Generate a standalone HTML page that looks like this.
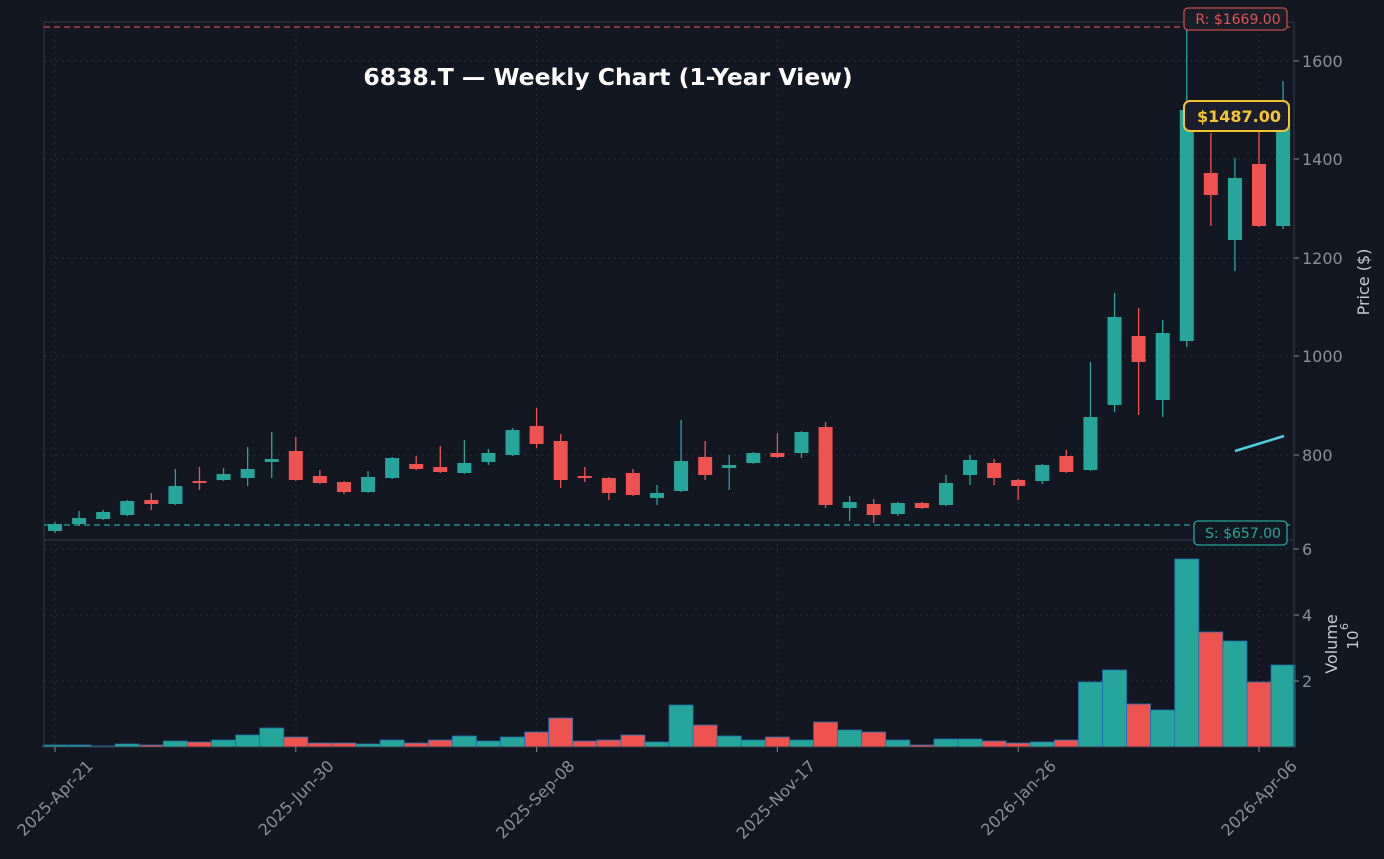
<!DOCTYPE html>
<html><head><meta charset="utf-8"><style>
html,body{margin:0;padding:0;background:#131722;}
svg{display:block;font-family:"DejaVu Sans","Liberation Sans",sans-serif;}
</style></head><body>
<svg id="s" width="1384" height="859" xmlns="http://www.w3.org/2000/svg">
<rect width="1384" height="859" fill="#131722"/>
<g id="grid"></g>
<g id="c"></g>
<g id="v"></g>
<g id="ax"></g>
</svg>
<script>
const NS="http://www.w3.org/2000/svg";
function el(p,t,a,txt){const e=document.createElementNS(NS,t);for(const k in a)e.setAttribute(k,a[k]);if(txt!==undefined)e.textContent=txt;document.getElementById(p).appendChild(e);return e;}
const D=[
['g',524,531,522,533,745],['g',518,524,511,526,745],['g',512,519,510,520,746],['g',501,515,500,516,744],
['r',500,504,493,510,745],['g',486,504,469,505,741],['r',481,483,467,490,742],['g',474,480,468,481,740],
['g',469,478,447,486,735],['g',459,462,432,478,728],['r',451,480,437,481,737],['r',476,483,470,484,743],
['r',482,492,481,494,743],['g',477,492,471,493,744],['g',458,478,457,479,740],['r',464,469,456,470,743],
['r',467,472,446,473,740],['g',463,473,440,474,736],['g',453,462,449,465,741],['g',430,455,428,456,737],
['r',426,444,408,448,732],['r',441,480,434,488,718],['r',476,478,467,482,741],['r',478,493,477,500,740],
['r',473,495,469,496,735],['g',493,498,485,505,742],['g',461,491,420,492,705],['r',457,475,441,480,725],
['g',465,468,455,490,736],['g',453,463,452,464,740],['r',453,457,433,458,737],['g',432,453,431,458,740],
['r',427,505,422,508,722],['g',502,508,496,521,730],['r',504,515,499,523,732],['g',503,514,502,516,740],
['r',503,508,502,509,745],['g',483,505,475,506,739],['g',460,475,455,485,739],['r',463,478,459,485,741],
['r',480,486,479,500,743],['g',465,481,464,484,742],['r',456,472,450,473,740],['g',417,470,362,471,682],
['g',317,405,293,412,670],['r',336,362,308,415,704],['g',333,400,320,417,710],['g',110,341,27,347,559],
['r',173,195,133,226,632],['g',178,240,158,271,641],['r',164,226,130,227,682],['g',117,226,81,229,665]];
const G='#26a69a',R='#ef5350';
const X0=55,DX=24.08;
const L=44,Rt=1294;
[455,356,258,159,61,681,615,549].forEach(y=>el('grid','line',{x1:L,x2:Rt,y1:y,y2:y,stroke:'#2a2e39','stroke-dasharray':'2,4','stroke-width':1}));
[0,10,20,30,40,50].forEach(i=>{const x=X0+DX*i;el('grid','line',{x1:x,x2:x,y1:22,y2:747,stroke:'#2a2e39','stroke-dasharray':'2,4','stroke-width':1});});
D.forEach((d,i)=>{const x=X0+DX*i,col=d[0]=='g'?G:R;
el('c','line',{x1:x,x2:x,y1:d[3],y2:d[4],stroke:col,'stroke-width':1.3});
el('c','rect',{x:x-7,y:d[1],width:14,height:Math.max(2,d[2]-d[1]),fill:col});
el('v','rect',{x:x-12,y:d[5],width:24,height:747-d[5],fill:col,stroke:'#1f6fb0','stroke-width':0.8});
});
el('ax','line',{x1:L,x2:L,y1:22,y2:747,stroke:'#363a45'});
el('ax','line',{x1:Rt,x2:Rt,y1:22,y2:747,stroke:'#363a45'});
el('ax','line',{x1:L,x2:Rt,y1:22,y2:22,stroke:'#363a45'});
el('ax','line',{x1:L,x2:Rt,y1:540,y2:540,stroke:'#363a45'});
el('ax','line',{x1:L,x2:Rt,y1:747,y2:747,stroke:'#363a45'});
el('ax','line',{x1:L,x2:Rt,y1:27,y2:27,stroke:'#c84a4a','stroke-dasharray':'6,4','stroke-width':1.3});
el('ax','line',{x1:L,x2:Rt,y1:525,y2:525,stroke:'#26a69a','stroke-dasharray':'6,4','stroke-width':1.3});
el('ax','polyline',{points:'1235,451 1258,444 1284,436',fill:'none',stroke:'#4dd0e1','stroke-width':2.5});
[[455,'800'],[356,'1000'],[258,'1200'],[159,'1400'],[61,'1600']].forEach(([y,t])=>{
el('ax','line',{x1:Rt,x2:Rt+5,y1:y,y2:y,stroke:'#888'});
el('ax','text',{x:Rt+8,y:y+6,fill:'#8a8f9a','font-size':16},t);});
[[681,'2'],[615,'4'],[549,'6']].forEach(([y,t])=>{
el('ax','line',{x1:Rt,x2:Rt+5,y1:y,y2:y,stroke:'#888'});
el('ax','text',{x:Rt+8,y:y+6,fill:'#8a8f9a','font-size':16},t);});
['2025-Apr-21','2025-Jun-30','2025-Sep-08','2025-Nov-17','2026-Jan-26','2026-Apr-06'].forEach((t,k)=>{
const x=X0+DX*10*k;el('ax','line',{x1:x,x2:x,y1:747,y2:752,stroke:'#888'});
const ax=x+39,ay=767;
el('ax','text',{x:ax,y:ay,fill:'#8a8f9a','font-size':16,'text-anchor':'end',transform:`rotate(-45 ${ax} ${ay})`},t);});
el('ax','text',{x:1369,y:282,fill:'#c8ccd4','font-size':16,'text-anchor':'middle',transform:'rotate(-90 1369 282)'},'Price ($)');
el('ax','text',{x:1337,y:644,fill:'#c8ccd4','font-size':16,'text-anchor':'middle',transform:'rotate(-90 1337 644)'},'Volume');
el('ax','text',{x:1358,y:640,fill:'#c8ccd4','font-size':15,'text-anchor':'middle',transform:'rotate(-90 1358 640)'},'10');
el('ax','text',{x:1348,y:630,fill:'#c8ccd4','font-size':11,transform:'rotate(-90 1348 630)'},'6');
el('ax','text',{x:608,y:85,fill:'#ffffff','font-size':23.5,'font-weight':'bold','text-anchor':'middle'},'6838.T — Weekly Chart (1-Year View)');
el('ax','rect',{x:1184,y:8,width:103,height:22,rx:4,fill:'#1a1e29',stroke:'#c84a4a','stroke-width':1.3});
el('ax','text',{x:1238,y:24,fill:'#e05555','font-size':14,'text-anchor':'middle'},'R: $1669.00');
el('ax','rect',{x:1194,y:521,width:93,height:24,rx:4,fill:'#131722',stroke:'#26a69a','stroke-width':1.3});
el('ax','text',{x:1243,y:538,fill:'#26a69a','font-size':14,'text-anchor':'middle'},'S: $657.00');
el('ax','rect',{x:1184,y:101,width:105,height:30,rx:6,fill:'#1a1e2e',stroke:'#f5c431','stroke-width':2});
el('ax','text',{x:1239,y:122,fill:'#f5c431','font-size':16,'font-weight':'bold','text-anchor':'middle'},'$1487.00');
</script>
</body></html>
